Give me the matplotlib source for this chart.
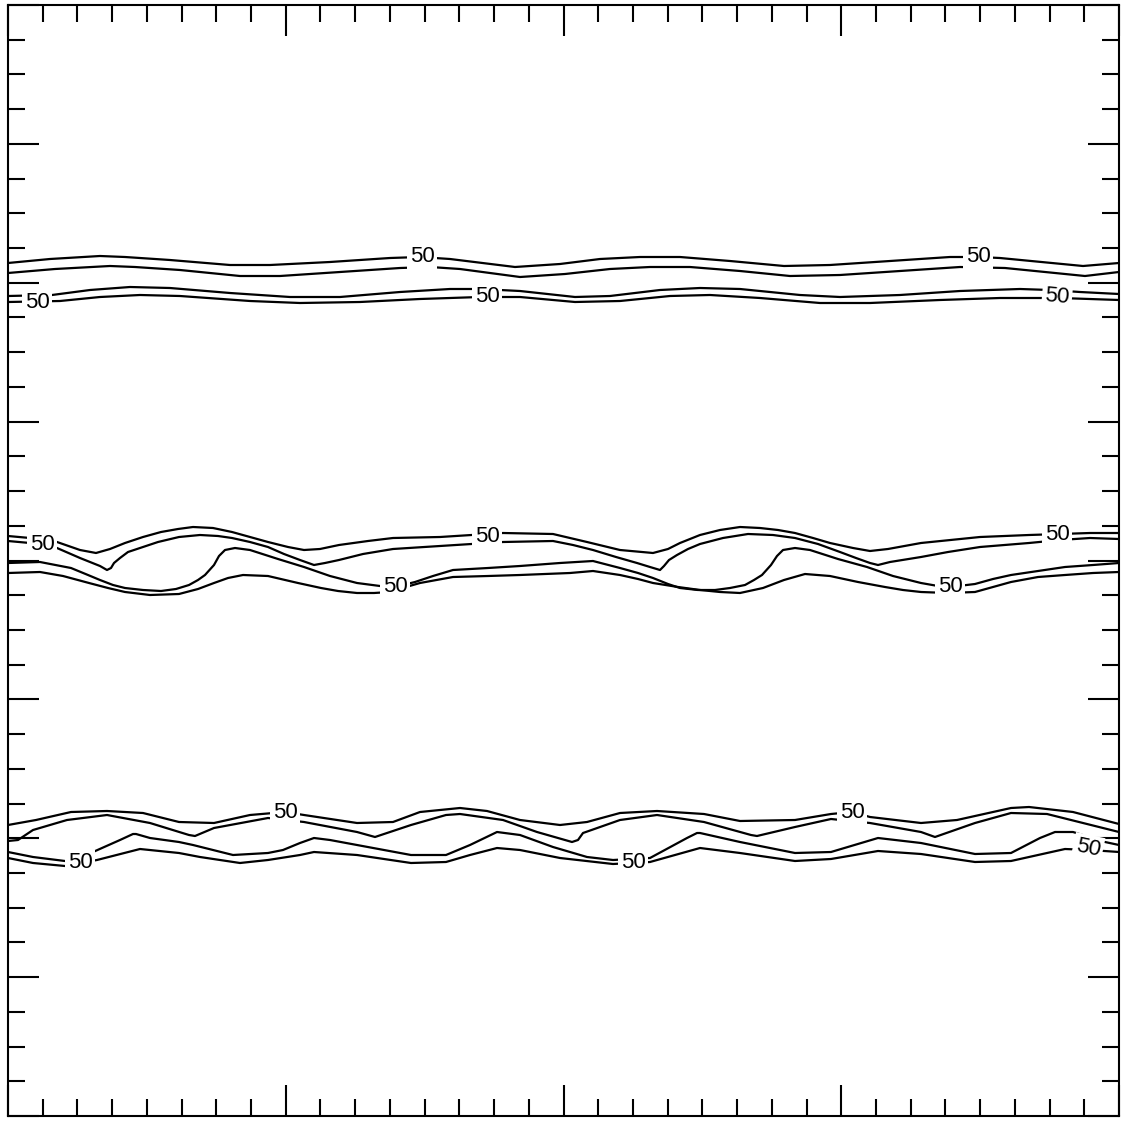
import numpy as np
import matplotlib
matplotlib.use("Agg")
import matplotlib.pyplot as plt

plt.rcParams['font.family'] = ['Liberation Sans', 'DejaVu Sans']

# frame is 0..1111 in both directions, y upward
# band 1 (top)
a1_x = [0, 42, 92, 117, 162, 222, 262, 322, 382, 412, 442, 507, 552, 592, 632, 672, 722, 776, 822, 882, 942, 970, 992, 1075, 1111]
a1_y = [853, 857, 860, 859, 856, 851, 851, 854, 858, 859, 857, 849, 852, 857, 859, 859, 855, 850, 851, 855, 859, 859, 858, 850, 853]
a2_x = [0, 47, 102, 127, 172, 232, 272, 332, 392, 422, 452, 512, 557, 602, 642, 682, 732, 782, 832, 892, 952, 997, 1077, 1111]
a2_y = [843, 847, 850, 849, 846, 840, 840, 844, 848, 849, 847, 839, 842, 847, 849, 849, 845, 840, 841, 845, 849, 848, 840, 844]
a3_x = [0, 44, 82, 122, 162, 222, 282, 332, 392, 442, 472, 512, 567, 602, 652, 692, 732, 792, 832, 892, 952, 1012, 1042, 1072, 1111]
a3_y = [820, 821, 826, 829, 828, 823, 819, 819, 824, 827, 827, 825, 819, 820, 826, 828, 827, 821, 819, 821, 825, 827, 826, 824, 822]
a4_x = [0, 52, 92, 132, 172, 242, 292, 352, 412, 472, 512, 567, 612, 662, 702, 752, 812, 862, 932, 992, 1052, 1111]
a4_y = [814, 815, 819, 821, 820, 815, 813, 814, 817, 819, 819, 814, 815, 820, 821, 818, 813, 813, 816, 818, 818, 816]

# band 2 (middle)
b1_x = [0, 22, 49, 72, 88, 102, 117, 135, 153, 170, 185, 205, 224, 242, 260, 280, 296, 312, 331, 360, 385, 432, 495, 545, 579, 612, 645, 660, 672, 692, 712, 732, 752, 770, 787, 805, 822, 845, 862, 880, 913, 972, 1021, 1052, 1082, 1111]
b1_y = [580, 578, 574, 566, 563, 567, 573, 579, 584, 587, 589, 588, 584, 579, 574, 569, 566, 567, 571, 575, 578, 579, 583, 582, 574, 566, 563, 567, 573, 581, 586, 589, 588, 586, 583, 578, 573, 568, 565, 567, 573, 579, 581, 582, 583, 583]
b2_x = [0, 22, 49, 72, 92, 99, 103, 106, 112, 120, 135, 150, 171, 192, 210, 224, 242, 260, 276, 292, 306, 317, 331, 355, 385, 432, 495, 545, 565, 585, 608, 629, 642, 652, 656, 661, 669, 680, 692, 715, 740, 765, 787, 810, 832, 848, 862, 870, 882, 913, 940, 972, 1021, 1052, 1082, 1111]
b2_y = [575, 573, 568, 558, 550, 546, 548, 553, 558, 564, 569, 574, 579, 581, 580, 578, 574, 569, 562, 556, 551, 553, 556, 562, 567, 570, 574, 575, 571, 566, 559, 553, 549, 546, 550, 556, 561, 567, 572, 578, 582, 581, 578, 572, 564, 558, 553, 551, 554, 559, 564, 569, 573, 576, 578, 577]
b3_x = [0, 32, 63, 80, 92, 105, 117, 135, 153, 168, 181, 190, 197, 206, 211, 217, 227, 242, 270, 296, 322, 349, 372, 387, 407, 425, 445, 480, 512, 552, 585, 612, 630, 645, 660, 672, 690, 707, 722, 737, 746, 754, 763, 769, 775, 787, 802, 830, 859, 885, 913, 930, 942, 967, 985, 1003, 1030, 1057, 1085, 1111]
b3_y = [553, 554, 548, 541, 536, 531, 528, 526, 525, 527, 531, 536, 541, 551, 560, 566, 568, 566, 557, 549, 540, 533, 530, 529, 534, 540, 546, 548, 550, 553, 555, 548, 543, 538, 532, 528, 526, 526, 528, 531, 536, 541, 551, 560, 566, 568, 566, 557, 549, 540, 533, 530, 529, 532, 537, 541, 545, 549, 551, 553]
b4_x = [0, 32, 55, 81, 100, 117, 142, 171, 190, 206, 220, 235, 260, 290, 313, 330, 349, 366, 382, 398, 412, 445, 480, 512, 562, 585, 612, 630, 645, 670, 692, 712, 732, 755, 776, 797, 822, 850, 877, 895, 913, 940, 967, 985, 1003, 1030, 1057, 1085, 1111]
b4_y = [543, 544, 540, 533, 528, 524, 521, 522, 527, 533, 538, 541, 540, 533, 528, 525, 523, 523, 524, 529, 533, 539, 540, 541, 543, 545, 541, 537, 533, 529, 526, 524, 523, 528, 536, 542, 540, 534, 529, 526, 524, 523, 524, 529, 534, 539, 541, 543, 544]

# band 3 (bottom)
c1_x = [0, 28, 63, 99, 135, 171, 206, 242, 277, 296, 349, 385, 412, 452, 479, 512, 552, 579, 612, 649, 696, 732, 787, 823, 844, 862, 913, 949, 1003, 1021, 1065, 1111]
c1_y = [291, 296, 304, 305, 303, 294, 293, 301, 304, 301, 293, 294, 304, 308, 305, 296, 291, 294, 303, 305, 302, 295, 296, 302, 304, 299, 293, 296, 308, 309, 304, 292]
c2_x = [0, 10, 25, 59, 99, 142, 181, 187, 206, 260, 296, 349, 367, 403, 438, 452, 495, 529, 564, 570, 575, 612, 649, 696, 743, 749, 787, 823, 862, 913, 927, 967, 1003, 1039, 1075, 1111]
c2_y = [275, 276, 286, 296, 301, 293, 281, 280, 288, 298, 294, 284, 279, 291, 301, 302, 296, 284, 274, 276, 283, 296, 301, 294, 281, 280, 289, 297, 293, 284, 279, 293, 303, 302, 293, 284]
c3_x = [0, 25, 57, 85, 112, 125, 128, 142, 171, 185, 225, 260, 275, 292, 306, 322, 349, 403, 438, 462, 489, 512, 545, 579, 605, 642, 679, 689, 692, 732, 787, 823, 870, 913, 967, 1003, 1032, 1047, 1065, 1097, 1111]
c3_y = [264, 259, 255, 264, 276, 282, 282, 278, 274, 271, 261, 263, 266, 273, 278, 276, 271, 261, 261, 271, 284, 281, 269, 259, 256, 258, 278, 283, 283, 274, 263, 264, 278, 273, 262, 263, 278, 284, 284, 274, 271]
c4_x = [0, 25, 57, 89, 132, 171, 192, 232, 260, 292, 306, 349, 403, 438, 462, 489, 512, 552, 605, 642, 692, 732, 787, 823, 870, 913, 967, 1003, 1057, 1082, 1111]
c4_y = [258, 253, 250, 256, 267, 263, 259, 253, 256, 261, 264, 261, 253, 254, 261, 268, 266, 258, 252, 254, 268, 263, 255, 257, 265, 262, 254, 255, 267, 266, 264]

# contour labels (value 50)
lab_x = [414, 970, 29, 479, 1049, 34, 479, 1049, 387, 942, 277, 844, 72, 625, 1080]
lab_y = [859, 859, 814, 819, 819, 572, 580, 581, 529, 529, 304, 304, 253, 254, 268]
lab_rot = [0, 0, 0, 0, -5, 0, 0, 0, 0, 0, 0, 0, 0, 0, -12]
lab_text = '50'

fig = plt.figure(figsize=(11.26, 11.21), dpi=100)
ax = fig.add_axes([8 / 1126, 5 / 1121, 1111 / 1126, 1111 / 1121])

lines = [(a1_x, a1_y), (a2_x, a2_y), (a3_x, a3_y), (a4_x, a4_y),
         (b1_x, b1_y), (b2_x, b2_y), (b3_x, b3_y), (b4_x, b4_y),
         (c1_x, c1_y), (c2_x, c2_y), (c3_x, c3_y), (c4_x, c4_y)]
for lx, ly in lines:
    ax.plot(lx, ly, color='black', lw=1.6, solid_joinstyle='round', zorder=2)

for tx, ty, r in zip(lab_x, lab_y, lab_rot):
    ax.text(tx, ty, lab_text, ha='center', va='center', fontsize=16, rotation=r,
            bbox=dict(boxstyle='square,pad=0.12', fc='white', ec='none'), zorder=3)

ax.set_xlim(0, 1111)
ax.set_ylim(0, 1111)
ax.set_xticks(np.linspace(0, 1111, 5))
ax.set_xticks(np.linspace(0, 1111, 33), minor=True)
ax.set_yticks(np.linspace(0, 1111, 9))
ax.set_yticks(np.linspace(0, 1111, 33), minor=True)
ax.tick_params(which='both', direction='in', top=True, right=True,
               labelbottom=False, labelleft=False, width=1.5, color='black')
ax.tick_params(which='major', length=22)
ax.tick_params(which='minor', length=12)
for s in ax.spines.values():
    s.set_linewidth(1.5)

fig.savefig('out.png', dpi=100)
